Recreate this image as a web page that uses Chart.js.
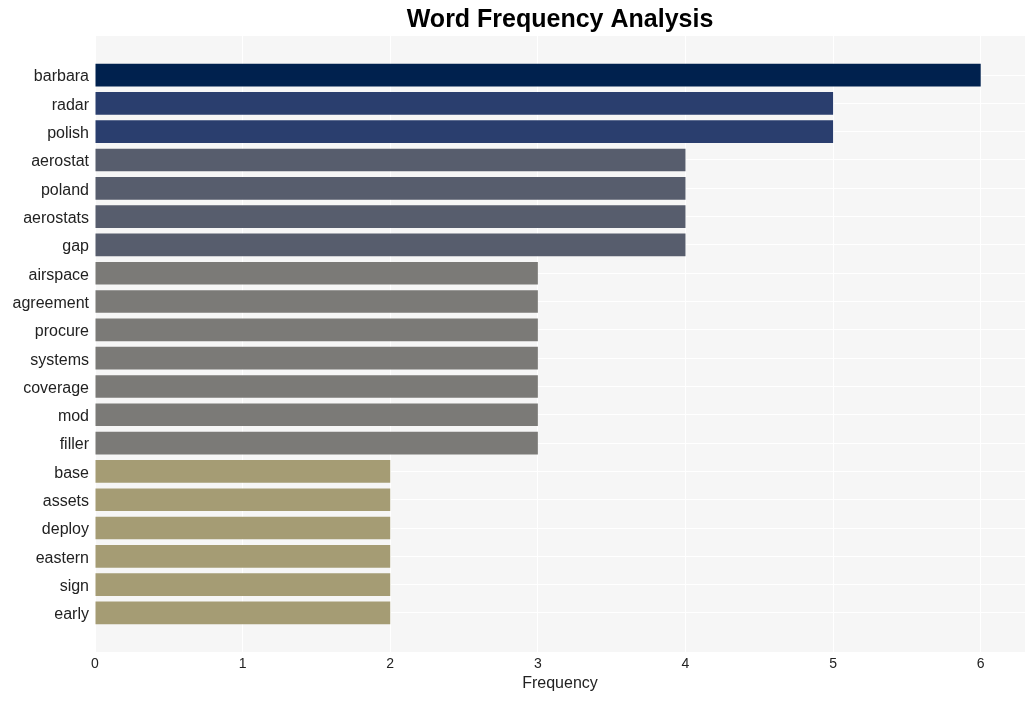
<!DOCTYPE html>
<html lang="en">
<head>
  <meta charset="UTF-8">
  <title>Word Frequency Analysis</title>
  <style>
    body {
      margin: 0;
      background: #ffffff;
    }
    #wrap {
      width: 1034px;
      height: 701px;
    }
  </style>
  <script src="https://cdn.jsdelivr.net/npm/chart.js"></script>
</head>
<body>
  <div id="wrap"><canvas id="chart"></canvas></div>

  <script>
    // Words and their counts, top to bottom
    const words = ['barbara', 'radar', 'polish', 'aerostat', 'poland', 'aerostats', 'gap',
      'airspace', 'agreement', 'procure', 'systems', 'coverage', 'mod', 'filler',
      'base', 'assets', 'deploy', 'eastern', 'sign', 'early'];
    const counts = [6, 5, 5, 4, 4, 4, 4, 3, 3, 3, 3, 3, 3, 3, 2, 2, 2, 2, 2, 2];
    const xTicks = [0, 1, 2, 3, 4, 5, 6];

    // Bar colour depends on the count
    const colorByCount = { 6: '#00214e', 5: '#2a3e6e', 4: '#575d6d', 3: '#7b7a77', 2: '#a59c74' };

    const fontFamily = '"Liberation Sans", Arial, sans-serif';

    // Light grey panel behind the plot area, and the title centred over it
    const panelPlugin = {
      id: 'panel',
      beforeDraw(chart) {
        const a = chart.chartArea;
        const ctx = chart.ctx;
        ctx.save();
        ctx.fillStyle = '#f6f6f6';
        ctx.fillRect(a.left, a.top, a.right - a.left, a.bottom - a.top);
        ctx.restore();
      },
      afterDraw(chart) {
        const a = chart.chartArea;
        const ctx = chart.ctx;
        ctx.save();
        ctx.font = 'bold 25px ' + fontFamily;
        ctx.fillStyle = '#000000';
        ctx.textAlign = 'center';
        ctx.textBaseline = 'middle';
        ctx.fillText('Word Frequency Analysis', (a.left + a.right) / 2, 20);
        ctx.restore();
      }
    };

    new Chart(document.getElementById('chart').getContext('2d'), {
      type: 'bar',
      data: {
        datasets: [{
          data: words.map((w, i) => ({ x: counts[i], y: i })),
          backgroundColor: counts.map(c => colorByCount[c]),
          borderWidth: 0,
          categoryPercentage: 1.0,
          barPercentage: 0.8
        }]
      },
      plugins: [panelPlugin],
      options: {
        indexAxis: 'y',
        responsive: true,
        maintainAspectRatio: false,
        animation: false,
        layout: {
          padding: { top: 36, right: 9, bottom: 8, left: 0 }
        },
        scales: {
          x: {
            type: 'linear',
            min: 0,
            max: 6.3,
            bounds: 'data',
            afterBuildTicks: scale => { scale.ticks = xTicks.map(v => ({ value: v })); },
            afterFit: scale => { scale.height = 41; },
            grid: { color: '#ffffff', lineWidth: 1, drawTicks: false },
            border: { display: false },
            ticks: {
              padding: 4,
              color: '#222222',
              font: { family: fontFamily, size: 14 }
            },
            title: {
              display: true,
              text: 'Frequency',
              color: '#222222',
              padding: { top: 2, bottom: 0 },
              font: { family: fontFamily, size: 16 }
            }
          },
          y: {
            type: 'linear',
            reverse: true,
            bounds: 'data',
            offset: false,
            min: -1.38,
            max: words.length - 1 + 1.38,
            afterBuildTicks: scale => { scale.ticks = words.map((w, i) => ({ value: i })); },
            afterFit: scale => { scale.width = 95; },
            grid: { color: '#ffffff', lineWidth: 1, drawTicks: false, offset: false },
            border: { display: false },
            ticks: {
              padding: 6,
              labelOffset: 2,
              color: '#222222',
              font: { family: fontFamily, size: 16 },
              callback: value => words[value]
            }
          }
        },
        plugins: {
          legend: { display: false },
          tooltip: { enabled: false },
          title: { display: false }
        }
      }
    });
  </script>
</body>
</html>
